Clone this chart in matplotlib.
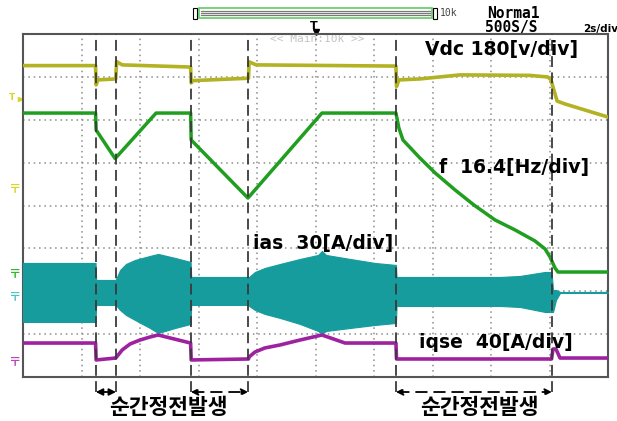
import numpy as np
import matplotlib
matplotlib.use('Agg')
import matplotlib.pyplot as plt
from matplotlib.patches import Rectangle
from matplotlib.transforms import blended_transform_factory

plt.rcParams['font.family'] = ['DejaVu Sans']

# 채널 설정 (ground 위치[div], 스케일[/div])
VDC_G, VDC_S = 4.385, 180.0
F_G, F_S = 2.40, 16.4
IAS_G, IAS_S = 1.87, 30.0
IQ_G, IQ_S = 0.35, 40.0
trig_level = 386.0  # [V]

# 순간정전 이벤트 시각 [s]
events = [2.49, 3.18, 5.74, 7.70, 12.75, 18.08]

# Vdc [V]
vdc_t = [0, 2.48, 2.50, 2.56, 3.17, 3.20, 3.39, 5.73, 5.75, 5.81, 7.71, 7.73,
         7.97, 12.75, 12.77, 12.85, 13.57, 14.94, 17.33, 17.95, 18.05, 18.26, 18.53, 20]
vdc_v = [518, 518, 437, 458, 462, 535, 521, 512, 445, 455, 465, 534,
         521, 516, 430, 458, 462, 479, 477, 470, 458, 369, 357, 302]

# 주파수 f [Hz]
f_t = [0, 2.48, 2.50, 3.15, 4.55, 5.73, 5.75, 7.69, 10.22, 12.75, 12.85, 12.99,
       13.57, 14.09, 14.77, 15.42, 16.14, 16.82, 17.50, 17.85, 18.02, 18.19, 18.29, 20]
f_hz = [61.6, 61.6, 55.1, 44.2, 61.6, 61.6, 51.3, 29.1, 61.6, 61.6, 55.9, 51.3,
        44.4, 38.7, 32.2, 26.4, 20.7, 16.9, 12.7, 9.6, 6.5, 2.3, 0.8, 0.8]

# 상전류 ias 포락선 [A]
ias_t = [0, 2.48, 2.50, 3.17, 3.20, 3.32, 3.52, 3.83, 4.34, 4.62, 5.20, 5.73,
         5.75, 7.71, 7.73, 7.93, 8.27, 8.79, 9.47, 10.09, 10.22, 10.36, 11.18, 12.03,
         12.75, 12.77, 16.32, 16.99, 17.85, 18.07, 18.12, 18.22, 18.36, 20]
ias_hi = [23.7, 23.7, 11.8, 11.8, 13.2, 18.8, 23.0, 25.8, 28.6, 30.0, 27.2, 24.4,
          13.9, 13.9, 13.9, 17.4, 20.2, 23.0, 26.5, 29.3, 32.1, 29.3, 26.5, 23.7,
          22.3, 13.9, 13.9, 14.6, 17.4, 17.4, 4.8, 4.8, 3.4, 3.4]
ias_lo = [-17.6, -17.6, -5.7, -5.7, -6.4, -9.2, -12.7, -16.2, -21.8, -25.3, -21.8, -19.0,
          -5.7, -5.7, -6.4, -9.2, -12.0, -14.8, -19.0, -23.9, -26.0, -23.9, -21.8, -19.7,
          -18.3, -6.4, -6.4, -7.1, -10.6, -10.6, -10.6, -2.2, 2.7, 2.7]

# q축 전류 iqse [A]
iq_t = [0, 2.48, 2.50, 3.17, 3.20, 3.39, 3.66, 4.00, 4.34, 4.62, 5.03, 5.73,
        5.75, 7.71, 7.73, 7.93, 8.27, 8.79, 9.47, 10.22, 11.01, 12.75, 12.77, 18.07,
        18.12, 18.22, 18.36, 20]
iq_a = [17.7, 17.7, 1.9, 3.7, 4.7, 11.2, 16.8, 20.5, 23.3, 25.2, 22.4, 17.7,
        1.9, 2.8, 4.7, 9.3, 13.1, 15.9, 20.5, 25.2, 17.7, 17.7, 2.8, 2.8,
        12.1, 12.1, 3.7, 3.7]

C_VDC = '#b2b222'
C_F = '#1f9e1f'
C_IAS = '#169c9c'
C_IQ = '#9e22a0'

fig = plt.figure(figsize=(6.17, 4.21), dpi=100)
fig.patch.set_facecolor('white')

# 상단 장식 (화면 상태 표시줄)
deco = fig.add_axes([0, 0, 1, 1])
deco.set_xlim(0, 617)
deco.set_ylim(421, 0)
deco.axis('off')
deco.add_patch(Rectangle((199, 8), 233, 10, facecolor='white', edgecolor='#6fcf6f', lw=1.3))
for yy in (10.8, 13, 15.2):
    deco.plot([201, 430], [yy, yy], color='#7a7a7a', lw=0.9)
deco.add_patch(Rectangle((193, 7.5), 4, 11, facecolor='white', edgecolor='black', lw=0.8))
deco.add_patch(Rectangle((433, 7.5), 4, 11, facecolor='white', edgecolor='black', lw=0.8))
deco.text(440, 13, '10k', fontsize=7, family='DejaVu Sans Mono', va='center', color='#444444')
deco.text(487, 13, 'Norma1', fontsize=10.5, fontweight='bold', family='DejaVu Sans Mono', va='center')
deco.text(485, 27.5, '500S/S', fontsize=10.5, fontweight='bold', family='DejaVu Sans Mono', va='center')
deco.text(583, 29, '2s/div', fontsize=7.5, fontweight='bold', va='center')
deco.text(314, 26, 'T', fontsize=8, fontweight='bold', ha='center', va='center')
deco.plot([316], [32], marker='v', color='black', ms=4)
deco.text(317, 39.5, '<< Main:10k >>', fontsize=8, color='#c4c4c4', family='DejaVu Sans Mono',
          ha='center', va='center')

ax = fig.add_axes([23 / 617, 44 / 421, 585 / 617, 343 / 421])
ax.set_facecolor('none')
ax.set_xlim(0, 20)
ax.set_ylim(0, 8)
ax.set_xticks(np.arange(0, 21, 2))
ax.set_yticks(np.arange(0, 9, 1))
ax.tick_params(length=0, labelbottom=False, labelleft=False)
ax.grid(True, color='#8c8c8c', linestyle=(0, (1, 2.5)), linewidth=1.1)
for s in ax.spines.values():
    s.set_color('#555555')
    s.set_linewidth(1.5)

# 파형
ax.fill_between(ias_t, IAS_G + np.array(ias_lo) / IAS_S, IAS_G + np.array(ias_hi) / IAS_S,
                facecolor=C_IAS, edgecolor=C_IAS, lw=0.8, zorder=3)
ax.plot(vdc_t, VDC_G + np.array(vdc_v) / VDC_S, color=C_VDC, lw=2.6, zorder=4)
ax.plot(f_t, F_G + np.array(f_hz) / F_S, color=C_F, lw=2.5, zorder=4)
ax.plot(iq_t, IQ_G + np.array(iq_a) / IQ_S, color=C_IQ, lw=2.6, zorder=4)

# 채널 ground 마커
tr = blended_transform_factory(ax.transAxes, ax.transData)
for g, c in [(VDC_G, '#d6d628'), (F_G, '#2eb82e'), (IAS_G, '#4cc4c4'), (IQ_G, '#b846b8')]:
    ax.text(-0.014, g, '〒', transform=tr, color=c, fontsize=9, fontweight='bold',
            family=['Noto Sans CJK KR'], ha='center', va='center', clip_on=False)
ax.text(-0.019, VDC_G + trig_level / VDC_S, 'T', transform=tr, color='#d6d628', fontsize=6.5,
        fontweight='bold', ha='center', va='center', clip_on=False)
ax.plot([-0.005], [VDC_G + trig_level / VDC_S - 0.05], transform=tr, marker='>', color='#d6d628',
        ms=3, clip_on=False)

# 이벤트 점선
y_arrow = -0.35
ax.vlines(events, y_arrow, 8, colors='#3a3a3a', linestyles=(0, (6, 3)), lw=1.3,
          clip_on=False, zorder=5)
for i, (a, b) in enumerate([(0, 1), (2, 3), (4, 5)]):
    ls = '-' if i == 0 else (0, (6, 4))
    ax.annotate('', xy=(events[b], y_arrow), xytext=(events[a], y_arrow),
                arrowprops=dict(arrowstyle='<|-|>', color='black', lw=1.3, mutation_scale=10,
                                shrinkA=0, shrinkB=0, linestyle=ls),
                annotation_clip=False)

ax.text(4.96, -0.72, '순간정전발생', ha='center', va='center', fontsize=15.5, fontweight='bold',
        family=['Noto Sans CJK KR'], clip_on=False)
ax.text(15.59, -0.72, '순간정전발생', ha='center', va='center', fontsize=15.5, fontweight='bold',
        family=['Noto Sans CJK KR'], clip_on=False)

# 채널 라벨
lab = dict(fontsize=13.5, fontweight='bold', va='center', ha='left', zorder=6)
ax.text(13.74, 7.63, 'Vdc 180[v/div]', **lab)
ax.text(14.22, 4.875, 'f  16.4[Hz/div]', **lab)
ax.text(7.86, 3.125, 'ias  30[A/div]', **lab)
ax.text(13.54, 0.816, 'iqse  40[A/div]', **lab)

fig.savefig('out.png', dpi=100, facecolor='white')
